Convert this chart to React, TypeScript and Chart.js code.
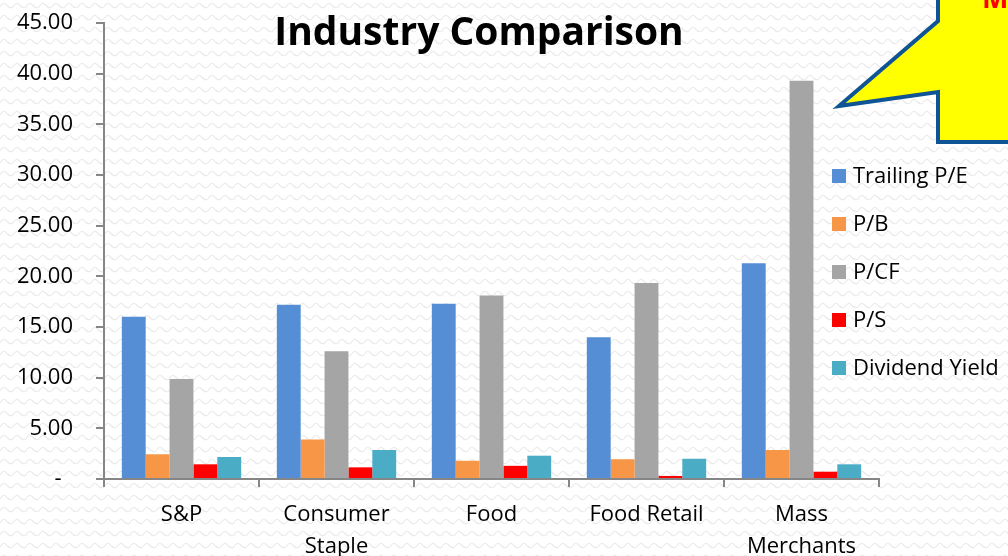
import React, { useEffect, useRef } from "react";
import { Chart, registerables } from "chart.js";

Chart.register(...registerables);

const categories: (string | string[])[] = ["S&P", ["Consumer", "Staple"], "Food", "Food Retail", ["Mass", "Merchants"]];
const trailingPE = [16.0, 17.2, 17.3, 14.0, 21.3];
const priceBook = [2.44, 3.9, 1.8, 1.95, 2.86];
const priceCF = [9.87, 12.6, 18.1, 19.35, 39.3];
const priceSales = [1.45, 1.15, 1.3, 0.3, 0.72];
const dividendYield = [2.17, 2.86, 2.3, 2.0, 1.45];
const seriesNames = ["Trailing P/E", "P/B", "P/CF", "P/S", "Dividend Yield"];
const seriesColors = ["#558ED5", "#F79646", "#A5A5A5", "#FF0000", "#4BACC6"];
const titleText = "Industry Comparison";
const calloutText = "M";

const FONT = "'Open Sans', 'Liberation Sans', sans-serif";

function makePattern(ctx: CanvasRenderingContext2D) {
  const c = document.createElement("canvas");
  c.width = 13;
  c.height = 12;
  const p = c.getContext("2d")!;
  p.fillStyle = "#ffffff";
  p.fillRect(0, 0, 13, 12);
  p.strokeStyle = "#ebebeb";
  p.lineWidth = 1.2;
  p.beginPath();
  p.moveTo(0, 7);
  p.quadraticCurveTo(3.25, 1, 6.5, 5);
  p.quadraticCurveTo(9.75, 9, 13, 7);
  p.stroke();
  return ctx.createPattern(c, "repeat");
}

const decorPlugin = {
  id: "decor",
  beforeDraw(chart: any) {
    const ctx = chart.ctx as CanvasRenderingContext2D;
    ctx.save();
    const pat = makePattern(ctx);
    ctx.fillStyle = pat || "#fafafa";
    ctx.fillRect(0, 0, chart.width, chart.height);
    ctx.restore();
  },
  afterDraw(chart: any) {
    const ctx = chart.ctx as CanvasRenderingContext2D;
    ctx.save();
    // title
    ctx.fillStyle = "#000";
    ctx.font = `bold 39px ${FONT}`;
    ctx.textAlign = "center";
    ctx.textBaseline = "alphabetic";
    ctx.fillText(titleText, 479, 45);

    // legend
    ctx.font = `22px ${FONT}`;
    ctx.textAlign = "left";
    ctx.textBaseline = "middle";
    chart.data.datasets.forEach((ds: any, i: number) => {
      const y = 176 + i * 48;
      ctx.fillStyle = ds.backgroundColor;
      ctx.fillRect(832, y - 7, 14, 14);
      ctx.fillStyle = "#000";
      ctx.fillText(ds.label, 853, y + 1);
    });

    // callout arrow
    ctx.beginPath();
    ctx.moveTo(938, -10);
    ctx.lineTo(938, 21);
    ctx.lineTo(839, 106);
    ctx.lineTo(938, 92);
    ctx.lineTo(938, 142);
    ctx.lineTo(1020, 142);
    ctx.lineTo(1020, -10);
    ctx.closePath();
    ctx.fillStyle = "#FFFF00";
    ctx.fill();
    ctx.lineWidth = 4;
    ctx.lineJoin = "miter";
    ctx.strokeStyle = "#0F5494";
    ctx.stroke();

    ctx.fillStyle = "#FF0000";
    ctx.font = `bold 28px ${FONT}`;
    ctx.textAlign = "left";
    ctx.textBaseline = "alphabetic";
    ctx.fillText(calloutText, 982, 8);
    ctx.restore();
  },
};

export default function App() {
  const ref = useRef<HTMLCanvasElement | null>(null);
  useEffect(() => {
    const values = [trailingPE, priceBook, priceCF, priceSales, dividendYield];
    const chart = new Chart(ref.current!, {
      type: "bar",
      data: {
        labels: categories,
        datasets: values.map((v, i) => ({
          label: seriesNames[i],
          data: v,
          backgroundColor: seriesColors[i],
          borderWidth: 0,
          barPercentage: 1.0,
          categoryPercentage: 0.77,
        })),
      },
      options: {
        animation: false,
        responsive: true,
        maintainAspectRatio: false,
        layout: { padding: { left: 0, top: 23, right: 129, bottom: 0 } },
        plugins: {
          legend: { display: false },
          title: { display: false },
          tooltip: { enabled: false },
        },
        scales: {
          x: {
            offset: true,
            grid: {
              offset: true,
              drawOnChartArea: false,
              drawTicks: true,
              tickLength: 8,
              color: "#868686",
              lineWidth: 2,
            },
            border: { display: true, color: "#868686", width: 2 },
            ticks: {
              color: "#000",
              font: { family: FONT, size: 22, lineHeight: 1.45 },
              padding: 12,
              maxRotation: 0,
              autoSkip: false,
            },
            afterFit(scale: any) {
              scale.height = 77;
              scale.paddingLeft = 0;
              scale.paddingRight = 0;
              scale.paddingTop = 0;
              scale.paddingBottom = 0;
            },
          },
          y: {
            min: 0,
            max: 45,
            grid: {
              drawOnChartArea: false,
              drawTicks: true,
              tickLength: 8,
              color: "#868686",
              lineWidth: 2,
            },
            border: { display: true, color: "#868686", width: 2 },
            ticks: {
              stepSize: 5,
              color: "#000",
              font: { family: FONT, size: 22 },
              padding: 23,
              callback: (v: any) => (Number(v) === 0 ? "-  " : Number(v).toFixed(2)),
            },
            afterFit(scale: any) {
              scale.width = 104;
              scale.paddingTop = 0;
              scale.paddingBottom = 0;
              scale.paddingLeft = 0;
              scale.paddingRight = 0;
            },
          },
        },
      },
      plugins: [decorPlugin],
    });
    return () => chart.destroy();
  }, []);
  return (
    <div style={{ position: "absolute", left: 0, top: 0, width: 1008, height: 556 }}>
      <canvas ref={ref} />
    </div>
  );
}
